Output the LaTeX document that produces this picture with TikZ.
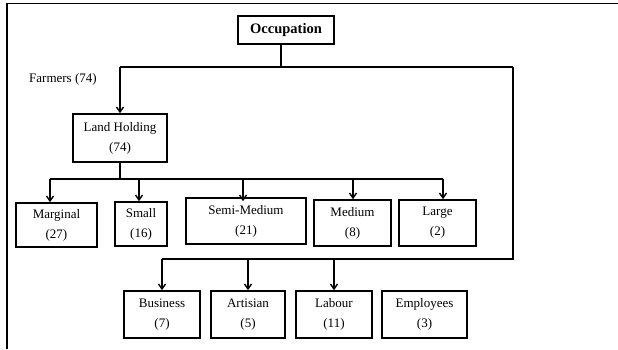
\documentclass[tikz,border=0pt]{standalone}
\usepackage{fontspec}
\setmainfont{Liberation Serif}
\usetikzlibrary{arrows.meta}
\begin{document}
\begin{tikzpicture}[x=1pt,y=-1pt,
  box/.style={draw,line width=1.6pt,align=center,inner sep=0pt,font=\fontsize{13}{20}\selectfont},
  conn/.style={line width=1.4pt},
  arr/.style={line width=1.4pt,-{Straight Barb[length=5pt,width=7pt,line width=1.4pt]}}]
\useasboundingbox (0,0) rectangle (618,349);
% partial frame
\draw[line width=1.5pt] (618,3.5) -- (7,3.5) -- (7,349);
% nodes
\node[box,minimum width=96pt,minimum height=28pt,font=\bfseries\fontsize{14.5}{17}\selectfont] (occ) at (286,30) {Occupation};
\node[anchor=west,font=\fontsize{13}{16}\selectfont,inner sep=0pt] (farm) at (29,79) {Farmers (74)};
\node[box,minimum width=94pt,minimum height=48pt] (land) at (120,138) {Land Holding\\(74)};
\node[box,minimum width=81pt,minimum height=44pt] (marg) at (56.5,225) {Marginal\\(27)};
\node[box,minimum width=52pt,minimum height=44pt] (small) at (141,224) {Small\\(16)};
\node[box,minimum width=120pt,minimum height=46pt] (semi) at (246,221) {Semi-Medium\\(21)};
\node[box,minimum width=77pt,minimum height=46pt] (med) at (352.5,223) {Medium\\(8)};
\node[box,minimum width=77pt,minimum height=46pt] (large) at (437.5,223) {Large\\(2)};
\node[box,minimum width=76pt,minimum height=47pt] (bus) at (162,314.5) {Business\\(7)};
\node[box,minimum width=74pt,minimum height=47pt] (art) at (248,314.5) {Artisian\\(5)};
\node[box,minimum width=76pt,minimum height=47pt] (lab) at (334,314.5) {Labour\\(11)};
\node[box,minimum width=85pt,minimum height=47pt] (emp) at (424.5,314.5) {Employees\\(3)};
% junction coordinates
\coordinate (oc) at (281,67);
\coordinate (bl) at (120,67);
\coordinate (br) at (513,67);
\coordinate (lj) at (120,179);
\coordinate (h1) at (50,179);
\coordinate (h2) at (139,179);
\coordinate (h3) at (243,179);
\coordinate (h4) at (353,179);
\coordinate (h5) at (443,179);
\coordinate (c1) at (162,259);
% connectors
\draw[conn] ([xshift=-5pt]occ.south) -- (oc);
\draw[conn] (br) -- (bl);
\draw[arr] (bl) -- (land.north);
\draw[conn] (land.south) -- (lj);
\draw[conn] (h1) -- (h5);
\draw[arr] (h1) -- (h1 |- marg.north);
\draw[arr] (h2) -- (h2 |- small.north);
\draw[arr] (h3) -- ([yshift=-4pt]h3 |- semi.north);
\draw[arr] (h4) -- (h4 |- med.north);
\draw[arr] (h5) -- (h5 |- large.north);
\draw[conn] (br) |- (c1);
\draw[arr] (c1) -- (bus.north);
\draw[arr] (art.north |- c1) -- (art.north);
\draw[arr] (lab.north |- c1) -- (lab.north);
\end{tikzpicture}
\end{document}
